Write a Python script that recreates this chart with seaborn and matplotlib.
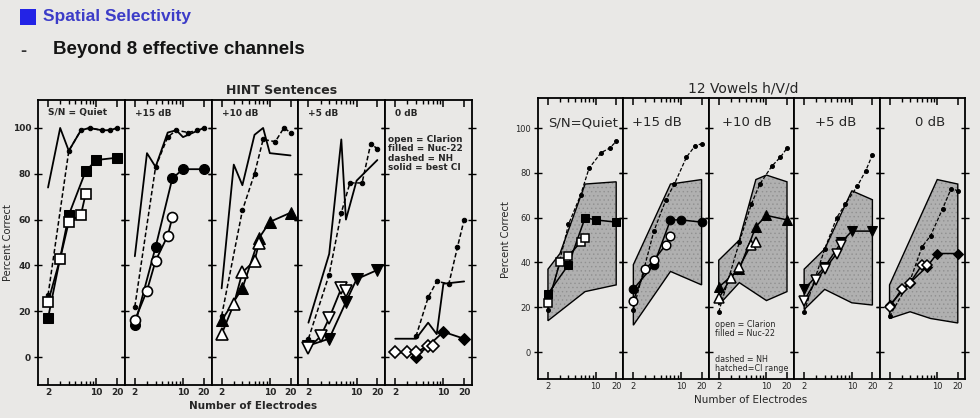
import matplotlib
matplotlib.use("Agg")
import matplotlib.pyplot as plt
import seaborn as sns
from matplotlib.patches import Rectangle
from matplotlib.ticker import FixedLocator, FixedFormatter, NullFormatter, NullLocator

# ---------------- data ----------------
hint_conditions = ["S/N = Quiet", "+15 dB", "+10 dB", "+5 dB", "0 dB"]
vowel_conditions = ["S/N=Quiet", "+15 dB", "+10 dB", "+5 dB", "0 dB"]

# HINT sentences
hint_nh_x = [[2, 4, 6, 8, 12, 16, 20], [2, 4, 6, 8, 12, 16, 20], [2, 4, 6, 8, 12, 16, 20],
             [2, 4, 6, 8, 12, 16, 20], [4, 6, 8, 12, 16, 20]]
hint_nh_y = [[27, 90, 99, 100, 99, 99, 100], [22, 83, 96, 99, 98, 99, 100], [18, 64, 80, 95, 94, 100, 98],
             [8, 36, 63, 76, 76, 93, 91], [9, 26, 33, 32, 48, 60]]
hint_best_x = [[2, 3, 4, 6, 8, 12, 16, 20], [2, 3, 4, 6, 8, 10, 20], [2, 3, 4, 6, 8, 10, 20],
               [2, 4, 6, 7, 10, 20], [2, 4, 6, 8, 10, 20]]
hint_best_y = [[74, 100, 90, 99, 100, 99, 99, 100], [44, 89, 83, 98, 99, 96, 100], [30, 84, 75, 97, 100, 89, 88],
               [15, 45, 95, 60, 77, 86], [8, 8, 15, 10, 32, 33]]
hint_clarion_x = [[2, 3, 4, 6, 7]] * 5
hint_clarion_y = [[24, 43, 59, 62, 71], [16, 29, 42, 53, 61], [10, 23, 37, 42, 50],
                  [4, 9, 17, 30, 29], [2, 2, 2, 5, 5]]
hint_nucleus_x = [[2, 4, 7, 10, 20], [2, 4, 7, 10, 20], [2, 4, 7, 10, 20], [2, 4, 7, 10, 20], [4, 10, 20]]
hint_nucleus_y = [[17, 62, 81, 86, 87], [14, 48, 78, 82, 82], [16, 30, 52, 59, 63],
                  [5, 8, 24, 34, 38], [0, 11, 8]]
hint_markers = ["s", "o", "^", "v", "D"]

# 12 vowels h/V/d
vow_nh_x = [[2, 4, 6, 8, 12, 16, 20]] * 5
vow_nh_y = [[19, 57, 70, 82, 89, 91, 94], [19, 54, 68, 75, 87, 92, 93], [18, 49, 66, 75, 83, 87, 91],
            [18, 46, 60, 66, 74, 81, 88], [16, 32, 47, 52, 64, 73, 72]]
vow_clarion_x = [[2, 3, 4, 6, 7]] * 5
vow_clarion_y = [[22, 40, 43, 49, 51], [23, 37, 41, 48, 52], [24, 33, 38, 48, 49],
                 [23, 32, 37, 44, 48], [20, 28, 31, 39, 39]]
vow_nucleus_x = [[2, 4, 7, 10, 20]] * 5
vow_nucleus_y = [[26, 39, 60, 59, 58], [28, 39, 59, 59, 58], [29, 37, 56, 61, 59],
                 [28, 38, 49, 54, 54], [21, 31, 38, 44, 44]]
vow_range_up_x = [[2, 3, 7, 20], [2, 7, 20], [2, 4, 7, 10, 20], [2, 4, 10, 20], [2, 10, 20]]
vow_range_up_y = [[37, 44, 75, 76], [39, 75, 77], [41, 50, 77, 79, 76], [37, 46, 72, 68], [30, 77, 75]]
vow_range_lo_x = [[2, 7, 20], [2, 7, 20], [2, 4, 10, 20], [2, 4, 10, 20], [2, 4, 8, 20]]
vow_range_lo_y = [[14, 27, 30], [12, 36, 30], [21, 31, 23, 27], [19, 28, 22, 21], [15, 18, 15, 13]]

x_ticks = [2, 10, 20]
x_tick_labels = ["2", "10", "20"]
x_minor_ticks = [3, 4, 5, 6, 7, 8, 9]
y_ticks = [0, 20, 40, 60, 80, 100]

# ---------------- style ----------------
sns.set_theme(style="ticks")
plt.rcParams["font.family"] = ["DejaVu Sans"]
plt.rcParams["hatch.linewidth"] = 0.5

BG = "#e9e8e6"
W, H = 980, 418
fig = plt.figure(figsize=(W / 100, H / 100), dpi=100, facecolor=BG)


def fx(px):
    return px / W


def fy(py):
    return 1 - py / H


def make_axes(x0, x1, ytop, ybot, n):
    w = (x1 - x0) / n
    axs = []
    for i in range(n):
        ax = fig.add_axes([fx(x0 + i * w), fy(ybot), w / W, (ybot - ytop) / H])
        ax.set_xscale("log")
        axs.append(ax)
    return axs


def style_axes(ax, ylim, xlim, first, fs, weight, spine_lw):
    ax.set_facecolor(BG)
    ax.set_xlim(*xlim)
    ax.set_ylim(*ylim)
    for s in ax.spines.values():
        s.set_linewidth(spine_lw)
        s.set_color("black")
    ax.xaxis.set_major_locator(FixedLocator(x_ticks))
    ax.xaxis.set_major_formatter(FixedFormatter(x_tick_labels))
    ax.xaxis.set_minor_locator(FixedLocator(x_minor_ticks))
    ax.xaxis.set_minor_formatter(NullFormatter())
    ax.yaxis.set_major_locator(FixedLocator(y_ticks))
    ax.yaxis.set_minor_locator(NullLocator())
    ax.xaxis.set_tick_params(which="major", direction="in", top=True, bottom=True, length=5,
                             width=1.1, labelsize=fs, pad=2, color="black")
    ax.xaxis.set_tick_params(which="minor", direction="in", top=True, bottom=True, length=3,
                             width=1.0, color="black")
    ax.yaxis.set_tick_params(which="major", direction="inout", left=True, right=True, length=6,
                             width=1.0, labelsize=fs, pad=2, color="black", labelleft=first)
    for lab in ax.get_xticklabels() + ax.get_yticklabels():
        lab.set_fontweight(weight)
    ax.set_xlabel("")
    ax.set_ylabel("")


def line(ax, x, y, **kw):
    sns.lineplot(x=x, y=y, ax=ax, estimator=None, sort=False, legend=False, **kw)


# ---------------- heading ----------------
fig.patches.append(Rectangle((fx(20), fy(25)), 16 / W, 16 / H, transform=fig.transFigure,
                             facecolor="#2323e6", edgecolor="none"))
fig.text(fx(43), fy(16), "Spatial Selectivity", fontsize=12.5, fontweight="bold", color="#3c3cc8",
         va="center", ha="left", family=["Liberation Sans", "DejaVu Sans"])
fig.text(fx(20), fy(51), "-", fontsize=13, fontweight="bold", color="#333333",
         va="center", ha="left", family=["Liberation Sans", "DejaVu Sans"])
fig.text(fx(53), fy(50), "Beyond 8 effective channels", fontsize=13.5, fontweight="bold",
         color="#141414", va="center", ha="left", family=["Liberation Sans", "DejaVu Sans"])

# ---------------- HINT sentences ----------------
L_x0, L_x1, L_top, L_bot = 38, 472, 100, 385
lax = make_axes(L_x0, L_x1, L_top, L_bot, 5)
for i, ax in enumerate(lax):
    line(ax, hint_best_x[i], hint_best_y[i], color="black", linewidth=1.3, zorder=3)
    line(ax, hint_nh_x[i], hint_nh_y[i], color="black", linewidth=1.1, linestyle=(0, (3, 1.6)),
         marker="o", markersize=3.2, markerfacecolor="black", markeredgecolor="black", zorder=4)
    m = hint_markers[i]
    ms = {"s": 6.6, "o": 7.2, "^": 8.4, "v": 8.4, "D": 6}[m]
    line(ax, hint_nucleus_x[i], hint_nucleus_y[i], color="black", linewidth=1.3, marker=m,
         markersize=ms, markerfacecolor="black", markeredgecolor="black", zorder=5)
    line(ax, hint_clarion_x[i], hint_clarion_y[i], color="black", linewidth=1.3, marker=m,
         markersize=ms, markerfacecolor="white", markeredgecolor="black", markeredgewidth=1.2, zorder=6)
    ax.text(10 / 86.8, 1 - 13 / 285, hint_conditions[i], transform=ax.transAxes, fontsize=6.5,
            fontweight="bold", va="center", ha="left")
    style_axes(ax, (-12.2, 112.2), (1.43, 26), i == 0, 6.5, "bold", 1.3)

lax[4].text(3 / 87.6, 1 - 35 / 285,
            "open = Clarion\nfilled = Nuc-22\ndashed = NH\nsolid = best CI",
            transform=lax[4].transAxes, fontsize=6.4, fontweight="bold", va="top", ha="left",
            linespacing=1.05)
fig.text(fx(282), fy(90), "HINT Sentences", fontsize=9, fontweight="bold", ha="center", va="center")
fig.text(fx(253), fy(406), "Number of Electrodes", fontsize=7.5, fontweight="bold", ha="center",
         va="center")
fig.text(fx(8), fy(243), "Percent Correct", fontsize=7.2, rotation=90, ha="center", va="center")

# ---------------- 12 vowels ----------------
R_x0, R_x1, R_top, R_bot = 538, 965, 98, 379
rax = make_axes(R_x0, R_x1, R_top, R_bot, 5)
label_offsets = [10, 9, 13, 21, 35]
for i, ax in enumerate(rax):
    px = vow_range_up_x[i] + vow_range_lo_x[i][::-1]
    py = vow_range_up_y[i] + vow_range_lo_y[i][::-1]
    ax.fill(px, py, facecolor="#b0b0b0", edgecolor="#909090", hatch="....", linewidth=0, zorder=1)
    ax.fill(px, py, facecolor="none", edgecolor="black", linewidth=1.0, zorder=2)
    line(ax, vow_nh_x[i], vow_nh_y[i], color="black", linewidth=0.9, linestyle=(0, (3, 1.5)),
         marker="o", markersize=2.8, markerfacecolor="black", markeredgecolor="black", zorder=4)
    m = hint_markers[i]
    ms = {"s": 5.8, "o": 6.2, "^": 7.2, "v": 7.2, "D": 5.2}[m]
    line(ax, vow_nucleus_x[i], vow_nucleus_y[i], color="black", linewidth=1.1, marker=m,
         markersize=ms, markerfacecolor="black", markeredgecolor="black", zorder=5)
    line(ax, vow_clarion_x[i], vow_clarion_y[i], color="black", linewidth=1.1, marker=m,
         markersize=ms, markerfacecolor="white", markeredgecolor="black", markeredgewidth=1.1, zorder=6)
    ax.text(label_offsets[i] / 85.4, 1 - 25 / 281, vowel_conditions[i], transform=ax.transAxes,
            fontsize=9.5, va="center", ha="left")
    style_axes(ax, (-12, 113.4), (1.43, 25.5), i == 0, 6, "normal", 1.3)

rax[2].text(6 / 85.4, 1 - 222 / 281, "open = Clarion\nfilled = Nuc-22", transform=rax[2].transAxes,
            fontsize=5.8, va="top", ha="left", linespacing=1.0)
rax[2].text(6 / 85.4, 1 - 257 / 281, "dashed = NH\nhatched=CI range", transform=rax[2].transAxes,
            fontsize=5.8, va="top", ha="left", linespacing=1.0)
fig.text(fx(743), fy(88), "12 Vowels h/V/d", fontsize=10, ha="center", va="center")
fig.text(fx(751), fy(400), "Number of Electrodes", fontsize=7.5, ha="center", va="center")
fig.text(fx(506), fy(240), "Percent Correct", fontsize=7.2, rotation=90, ha="center", va="center")

fig.savefig("out.png", dpi=100, facecolor=fig.get_facecolor())
